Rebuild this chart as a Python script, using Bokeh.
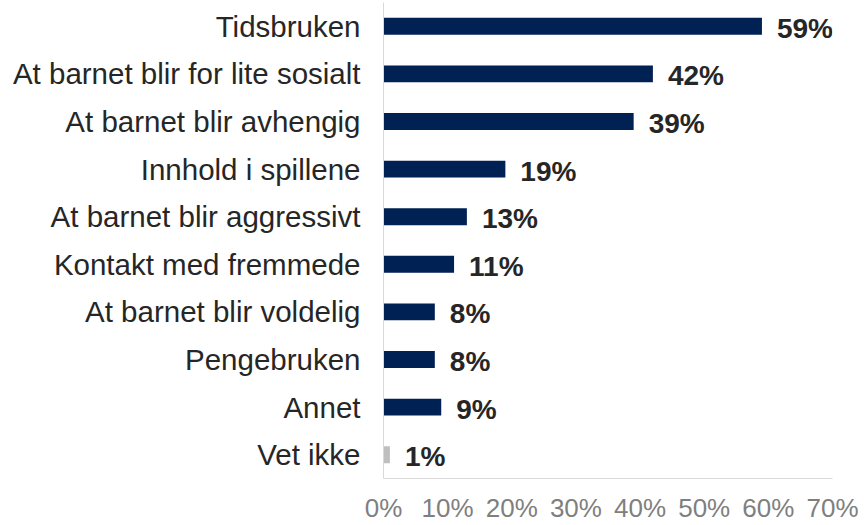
from bokeh.plotting import figure
from bokeh.models import ColumnDataSource, Range1d, FixedTicker
from bokeh.core.properties import value
from bokeh.embed import file_html
from bokeh.resources import INLINE

categories = ["Tidsbruken", "At barnet blir for lite sosialt", "At barnet blir avhengig",
              "Innhold i spillene", "At barnet blir aggressivt", "Kontakt med fremmede",
              "At barnet blir voldelig", "Pengebruken", "Annet", "Vet ikke"]
values = [59, 42, 39, 19, 13, 11, 8, 8, 9, 1]
bar_colors = ["#002154"] * 9 + ["#bfbfbf"]
x_ticks = [0, 10, 20, 30, 40, 50, 60, 70]
x_tick_labels = ["0%", "10%", "20%", "30%", "40%", "50%", "60%", "70%"]

idx = list(range(len(categories)))
src = ColumnDataSource(dict(
    y=idx,
    v=values,
    color=bar_colors,
    label=[f"{v}%" for v in values],
))

FONT = "Liberation Sans"

p = figure(width=864, height=525, output_backend="svg", toolbar_location=None,
           x_range=Range1d(0, 70), y_range=Range1d(9.5, -0.5),
           min_border_left=383, min_border_right=32, min_border_top=2, min_border_bottom=45)
p.outline_line_color = None
p.grid.grid_line_color = None

p.hbar(y="y", right="v", left=0, height=0.355, color="color", line_color=None, source=src)
p.text(x="v", y="y", text="label", source=src, x_offset=15, y_offset=2,
       text_baseline="middle", text_align="left",
       text_font=value(FONT), text_font_style="bold", text_font_size="28px",
       text_color="#262626")

# y axis (categories)
ya = p.yaxis[0]
ya.ticker = FixedTicker(ticks=idx)
ya.major_label_overrides = {i: c for i, c in zip(idx, categories)}
ya.major_tick_line_color = None
ya.minor_tick_line_color = None
ya.major_tick_out = 0
ya.major_tick_in = 0
ya.major_label_standoff = 23
ya.axis_line_color = "#d9d9d9"
ya.major_label_text_font = FONT
ya.major_label_text_font_size = "29.5px"
ya.major_label_text_color = "#262626"

# x axis
xa = p.xaxis[0]
xa.ticker = FixedTicker(ticks=x_ticks)
xa.major_label_overrides = {t: l for t, l in zip(x_ticks, x_tick_labels)}
xa.major_tick_line_color = None
xa.minor_tick_line_color = None
xa.major_tick_out = 0
xa.major_tick_in = 0
xa.major_label_standoff = 14
xa.axis_line_color = "#d9d9d9"
xa.major_label_text_font = FONT
xa.major_label_text_font_size = "26px"
xa.major_label_text_color = "#7f7f7f"

open("out.html", "w").write(file_html(p, INLINE))
